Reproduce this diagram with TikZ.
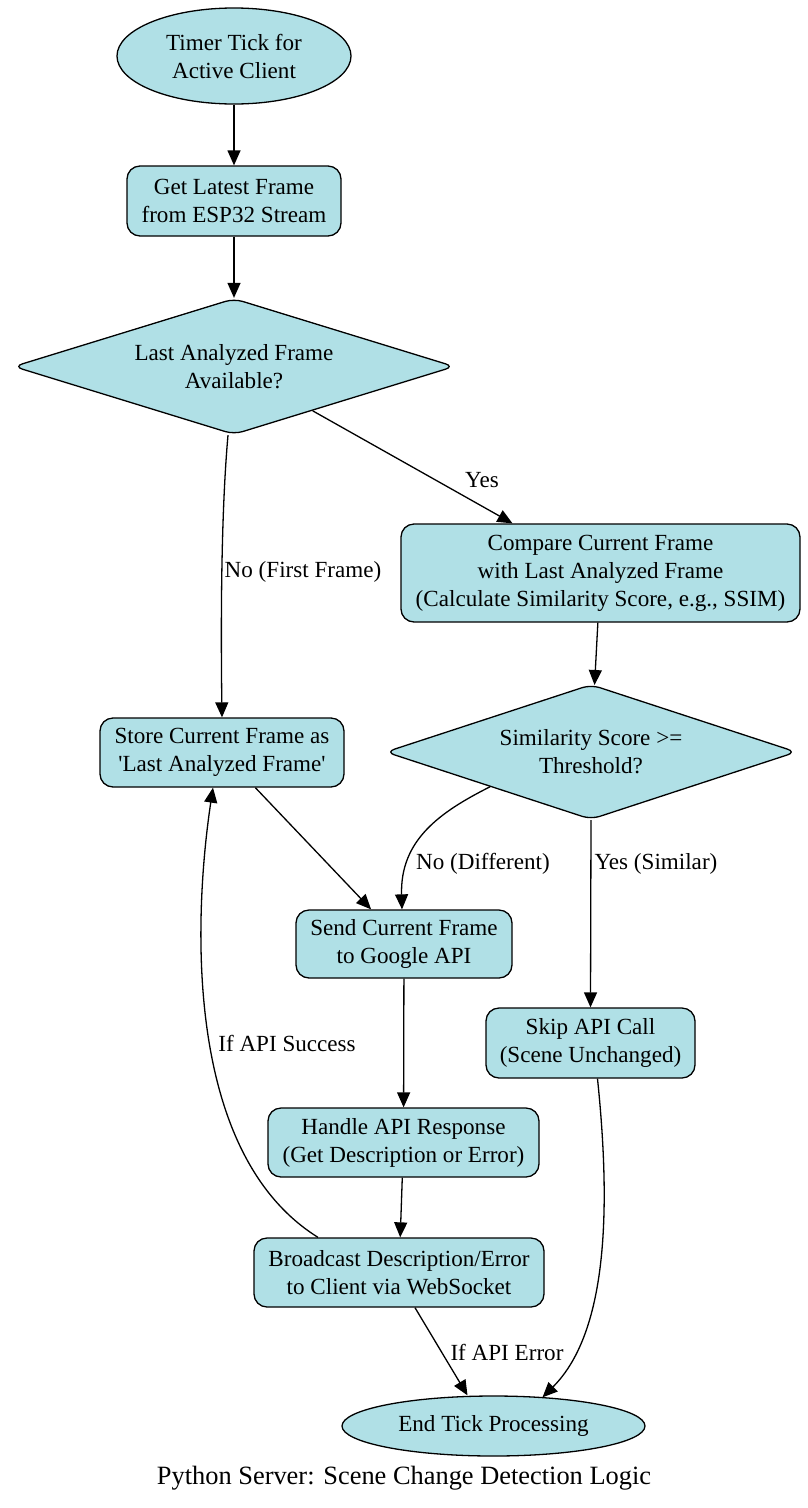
\documentclass[tikz,border=0pt]{standalone}
\usepackage{fontspec}
\setmainfont{Liberation Serif}[Ligatures=TeXOff]
\usetikzlibrary{shapes.geometric,arrows.meta}
\definecolor{pblue}{HTML}{B0E0E6}
\begin{document}
\begin{tikzpicture}[x=1pt,y=-1pt,
  every node/.style={font=\fontsize{23.1pt}{28pt}\selectfont, align=center, inner sep=0pt},
  box/.style={draw, fill=pblue, rounded corners=13pt, line width=1.3pt},
  ell/.style={draw, fill=pblue, ellipse, line width=1.3pt},
  dia/.style={draw, fill=pblue, diamond, rounded corners=9pt, line width=1.3pt},
  lbl/.style={fill=none},
  arr/.style={line width=1.3pt, -{Triangle[length=15pt,width=13pt]}}]
\useasboundingbox (0,0) rectangle (808,1508);
\node[ell, minimum width=234pt, minimum height=96pt] (timer) at (234,56) {Timer Tick for\\Active Client};
\node[box, minimum width=214pt, minimum height=70pt] (get) at (234,201) {Get Latest Frame\\from ESP32 Stream};
\node[dia, minimum width=441pt, minimum height=136pt, aspect=3.25] (d1) at (234,366.5) {Last Analyzed Frame\\Available?};
\node[box, minimum width=399pt, minimum height=98pt] (cmp) at (600.5,573) {Compare Current Frame\\with Last Analyzed Frame\\(Calculate Similarity Score, e.g., SSIM)};
\node[dia, minimum width=411pt, minimum height=135pt, aspect=3.05] (sim) at (591,752) {Similarity Score >=\\Threshold?};
\node[box, minimum width=244pt, minimum height=69pt] (store) at (222,752.5) {Store Current Frame as\\'Last Analyzed Frame'};
\node[box, minimum width=216pt, minimum height=68pt] (send) at (404,944) {Send Current Frame\\to Google API};
\node[box, minimum width=209pt, minimum height=70pt] (skip) at (590.5,1043) {Skip API Call\\(Scene Unchanged)};
\node[box, minimum width=271pt, minimum height=69pt] (handle) at (403.5,1142.5) {Handle API Response\\(Get Description or Error)};
\node[box, minimum width=290pt, minimum height=69pt] (bcast) at (399,1272.5) {Broadcast Description/Error\\to Client via WebSocket};
\node[ell, minimum width=303pt, minimum height=60pt] (end) at (493.5,1426) {End Tick Processing};
\node[font=\fontsize{26.4pt}{30pt}\selectfont] (cap) at (404,1478) {Python Server: Scene Change Detection Logic};

\draw[arr] (timer) -- (get);
\draw[arr] (get) -- (d1);
\draw[arr] (d1) -- (cmp);
\draw[arr] ([xshift=-6pt]d1.south) .. controls (224,480) and (220,560) .. (store.north);
\draw[arr] (cmp) -- (sim);
\draw[arr] (sim.-161) .. controls (440,812) and (400,840) .. ([xshift=-2pt]send.north);
\draw[arr] (sim.south) -- (skip.north);
\draw[arr] (store) -- (send);
\draw[arr] (send) -- (handle);
\draw[arr] (handle) -- (bcast);
\draw[arr] ([xshift=-81pt]bcast.north) .. controls (178,1150) and (196,900) .. ([xshift=-9pt]store.south);
\draw[arr] ([xshift=16pt]bcast.south) -- ([xshift=-26pt]end.north);
\draw[arr] ([xshift=7pt]skip.south) .. controls (610,1200) and (610,1330) .. ([xshift=49pt,yshift=-2pt]end.north);

\node[lbl] (lyes) at (482,480) {Yes};
\node[lbl] (lno) at (303,572) {No (First Frame)};
\node[lbl] (ldiff) at (483,864) {No (Different)};
\node[lbl] (lsim) at (656,864) {Yes (Similar)};
\node[lbl] (lsucc) at (287,1043) {If API Success};
\node[lbl] (lerr) at (507,1352) {If API Error};
\end{tikzpicture}
\end{document}
